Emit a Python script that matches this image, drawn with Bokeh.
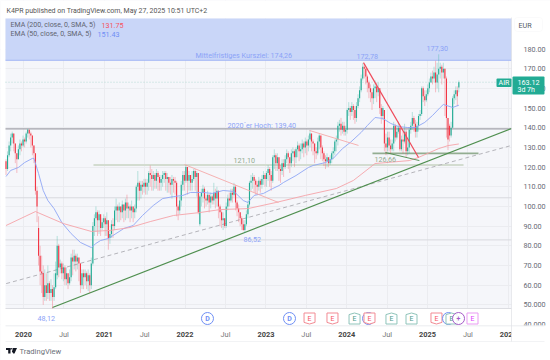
from bokeh.plotting import figure
from bokeh.embed import file_html
from bokeh.resources import INLINE
from bokeh.models import FixedTicker, Label, BoxAnnotation, ColumnDataSource, PolyAnnotation, LinearAxis
from bokeh.core.properties import value

closes = [119,126,131,135,137,132,127,124,129,132,
 131,134,133,137,139,137,136,131,127,108,
 100,75,67,66,54,60,56,61,56,58,
 54,59,66,80,69,71,66,69,63,66,
 61,64,74,72,75,72,74,71,60,66,
 64,66,62,65,60,71,90,94,97,93,
 96,89,92,94,91,93,84,86,91,90,
 98,100,98,100,97,101,98,102,99,100,
 98,100,97,99,110,112,108,111,110,112,
 110,112,117,116,114,116,113,117,115,112,
 114,116,117,114,115,112,111,114,113,112,
 100,98,103,111,116,113,120,113,116,112,
 114,118,115,117,97,105,107,109,104,103,
 106,102,105,103,107,104,108,100,97,93,
 94,90,100,104,103,107,106,110,102,99,
 97,94,91,88,91,96,101,112,113,115,
 113,111,110,113,111,114,116,114,117,119,
 116,113,125,126,122,125,119,118,122,120,
 124,127,125,122,127,128,125,129,131,128,
 129,132,130,133,131,134,137,133,132,128,
 127,133,136,130,127,124,123,125,122,124,
 127,128,133,134,141,142,139,141,138,139,
 149,150,148,151,149,145,151,155,159,165,
 171,170,166,163,160,158,155,160,161,158,
 160,150,146,150,132,130,135,131,129,132,
 141,135,138,140,129,134,133,138,128,130,
 139,141,145,142,138,141,146,147,160,156,
 154,157,160,163,166,165,168,163,167,170,
 171,168,170,165,145,134,136,140,155,157,
 159,156,163.12]
highs = [124,128,133,137,138,137,130,127,131,134,
 133,136,135,138,139.4,139,138,134,130,127,
 110,95,80,75,70,68,66,70,62,63,
 60,66,72,85,81,73,72,71,70,69,
 66,68,76,78,78,76,76,74,68,68,
 68,68,67,68,66,74,92,96,100,98,
 98,94,94,96,95,97,93,88,93,94,
 100,104,101,102,100,103,101,104,106,102,
 101,103,100,101,111,118,113,113,113,114,
 114,114,118,120.8,119,118,117,119,118,116,
 116,118,118,118,117,115,115,116,115,115,
 113,101,105,113,118,118,121.1,118,118,116,
 118,119,119,118,117,106,109,111,110,106,
 108,106,107,106,112,109,110,108,101,98,
 97,94,102,106,107,109,109,112,111,103,
 101,97,95,93,93,98,103,113,116,117,
 116,114,113,115,114,116,118,117,118,121,
 120,118,126,129,127,127,125,121,124,124,
 126,129,128,125,129,130,129,130,133,132,
 132,134,133,135,134,136,138.8,137,134,132,
 130,135,137,135,131,128,126,127,125,126,
 128,130,134,136,143,144,145,143,143,141,
 150,153,151,153,152,151,153,157,161,167,
 172.8,172,169,167,164,162,160,162,164,163,
 163,157,152,151,146,137,138,138,134,134,
 143,142,141,143,141,136,138,142,139,134,
 140,143,148,146,144,143,147,149,161,161,
 159,159,162,165,168,169,171,174,173,177.3,
 173,172,173,168,166,145,142,143,156,159,
 161,161,164]
lows = [116,118,125,128,132,128,122,117,125,126,
 128,130,130,132,135,134,130,126,122,106,
 92,70,60,56,50,52,52,53,52,52,
 48.12,52,58,63,64,66,63,62,60,60,
 58,60,62,65,68,67,68,62,56,58,
 58,60,58,57,56,58,70,85,87,85,
 86,85,88,89,85,85,78,81,84,84,
 88,93,92,92,93,94,92,93,94,94,
 92,94,92,94,97,103,103,104,106,107,
 106,106,108,110,108,108,109,109,108,108,
 108,110,112,108,107,107,106,104,107,106,
 95,93,96,100,108,108,112,106,108,108,
 108,113,108,105,96,90,100,102,99,100,
 101,97,99,101,101,99,100,94,90,89,
 88,89,89,98,100,102,102,105,98,95,
 92,90,88,87.5,86.52,90,94,100,108,109,
 107,106,106,108,107,109,111,110,110,113,
 110,108,112,119,118,118,113,112,116,115,
 119,122,119,117,120,123,120,122,125,123,
 124,127,125,127,126,128,130,128,126,122,
 124,126,129,124,123,120.5,119,120,120,121,
 122,124,126,128,131,138,136,137,136,136,
 137,146,144,146,144,142,143,150,153,158,
 164,165,162,158,155,153,149,152,155,153,
 156,147,142,144,128,126,128,128,126.7,128,
 128,133,134,137,128,128,127,132,125,126,
 127,137,139,138,135,135,138,144,146,153,
 151,153,156,158,163,162,163,158,160,158,
 165,162,165,146,135,128.6,133,135,140,152,
 154,151,158]
gap_opens = {0: 123, 21: 89, 33: 65, 125: 91, 244: 149, 286: 141, 292: 160.5}

ema50_idx = [0,3,8,12,17,18,21,24,27,31,36,42,48,55,58,61,66,76,82,88,95,101,108,114,119,127,133,140,147,153,156,160,166,172,176,179,187,195,198,206,211,217,222,229,233,238,243,248,253,259,264,270,275,280,282,288,292]
ema50_val = [115.2,118.3,119.8,122.3,124.4,124.4,116.7,108.1,103,98.9,91.8,86.2,81.7,79.1,81.2,82.7,83.7,88.8,90.3,95.4,100.5,104,105,105.6,107.1,107.1,106.6,108.1,107.6,103,102,105.6,106.6,109.1,110.6,112.2,115.7,119.8,120.8,122.3,124.4,129.4,132.5,137.6,141.1,145.2,144.7,142.2,140.6,140.1,140.1,142.7,146.2,150.3,151.8,150.3,151.43]
ema200_idx = [0,19,37,55,67,80,93,108,125,138,156,174,193,213,224,238,260,266,279,285,292]
ema200_val = [90.3,97.4,91.3,87.3,87.8,89.3,92.3,95.4,96.9,98.4,98.9,102,105.6,109.1,113.2,121.8,123.3,124.9,129.4,130.9,131.75]

price_ticks = [180,170,160,150,140,130,120,110,100,90,80,70,60,50,40]
price_labels = ["180.00","170.00","160.00","150.00","140.00","130.00","120.00","110.00","100.00","90.00","80.00","70.00","60.00","50.000","40.000"]
year_ticks = [2020,2021,2022,2023,2024,2025,2026]
month_ticks = [2020.5,2021.5,2022.5,2023.5,2024.5,2025.5]
month_label = "Jul"

event_years = [2022.277,2023.292,2023.54,2023.824,2024.097,2024.27,2024.282,2024.554,2024.802,2025.111,2025.26,2025.297,2025.384,2025.557]
event_kinds = ["D","D","Ered","Ered","Egreen","D","Ered","Egreen","Egreen","Ered","D","Egreen","S","Epink"]

target_level = 174.26
high_level = 139.40
band_a = (121.1, 2020.866, 2025.446)
band_b = (127.0, 2024.319, 2025.631)
support_year, support_price = [2020.359, 2026.04], [48.65, 139.6]
dashed_year, dashed_price = [2019.786, 2026.05], [60.8, 131.1]
wedge1_year, wedge1_price = [2021.993, 2023.156], [121.3, 102.0]
wedge2_year, wedge2_price = [2023.54, 2024.146], [138.6, 131.0]
fall_year, fall_price = [2024.208, 2024.889], [173.1, 124.9]
base_year, base_price = [2024.48, 2024.90], [127.4, 123.3]
last_price = 163.12

PXY = 80.8
PPP = 1.968
def X(px): return 2020 + (px - 23) / PXY
def Y(py): return 180 - (py - 48.5) / PPP

TEAL, RED = "#22ab94", "#f23645"
BLUE_T = "#8ba3f7"
GREEN_T = "#93ab90"

W, H = 550, 360
p = figure(width=W, height=H, output_backend="svg", toolbar_location=None,
           x_range=(X(0), X(W)), y_range=(Y(H), Y(0)),
           x_axis_location=None, y_axis_location=None,
           min_border_left=0, min_border_right=0, min_border_top=0, min_border_bottom=0,
           background_fill_color="#f5f6fa", border_fill_color="#ffffff",
           margin=(0, 0, 0, 0), outline_line_color=None, tools="")
p.xgrid.ticker = FixedTicker(ticks=year_ticks + month_ticks)
p.ygrid.ticker = FixedTicker(ticks=price_ticks)
p.xgrid.grid_line_color = "#ebecf0"
p.ygrid.grid_line_color = "#ebecf0"

ax = LinearAxis(ticker=FixedTicker(ticks=price_ticks), fixed_location=X(511))
ax.major_label_overrides = dict(zip(price_ticks, price_labels))
ax.major_tick_line_color = None
ax.minor_tick_line_color = None
ax.axis_line_color = None
ax.major_label_standoff = 6
ax.major_label_text_font = "Roboto"
ax.major_label_text_font_size = "7.2px"
ax.major_label_text_color = "#666a73"
p.add_layout(ax, "right")

for ticks, style, color, loc in ((year_ticks, "bold", "#444444", 321), (month_ticks, "normal", "#777777", 319)):
    xa = LinearAxis(ticker=FixedTicker(ticks=ticks), fixed_location=Y(loc))
    if ticks is month_ticks:
        xa.major_label_overrides = {t: month_label for t in ticks}
    else:
        xa.major_label_overrides = {t: str(t) for t in ticks}
    xa.major_tick_line_color = None
    xa.minor_tick_line_color = None
    xa.axis_line_color = None
    xa.major_label_standoff = 4
    xa.major_label_text_font = "Roboto"
    xa.major_label_text_font_size = "7.4px"
    xa.major_label_text_font_style = style
    xa.major_label_text_color = color
    p.add_layout(xa, "below")

# page margins around the plot area, then the bands
for (l, r, t, b) in ((0, 5, 0, 360), (511, 550, 0, 360), (0, 550, 0, 18), (0, 550, 308, 360)):
    p.quad(left=X(l), right=X(r), bottom=Y(b), top=Y(t), fill_color="#ffffff", line_color=None)
p.quad(left=X(5), right=X(511), bottom=target_level, top=Y(18), fill_color="#c9d6f8", line_color=None)
p.line([X(5), X(511)], [target_level]*2, line_color="#a3b6f5", line_width=1)
p.line([X(5), X(511)], [Y(308)]*2, line_color="#dcdde2", line_width=1)
for lv in (104.4, 83.0):
    p.line([X(5), X(511)], [lv]*2, line_color="#d8d9de", line_width=1)
p.line([X(5), X(511)], [last_price]*2, line_color="#b8dcd4", line_width=1, line_dash="1 2")
p.line([X(5), X(511)], [high_level]*2, line_color="#a2a2aa", line_width=1.2)
p.line([band_a[1], band_a[2]], [band_a[0]]*2, line_color="#d3dcd0", line_width=2)
p.line([band_b[1], band_b[2]], [band_b[0]]*2, line_color="#93ad91", line_width=1.7)
p.line(dashed_year, dashed_price, line_color="#b4b4ba", line_width=1, line_dash="4 3")
p.line(support_year, support_price, line_color="#4f8f4f", line_width=1.2)

# candles
step = 1 / 52.1
x0 = X(5.5)
xs = [x0 + i * step for i in range(len(closes))]
opens = [gap_opens.get(i, closes[i - 1] if i else closes[0]) for i in range(len(closes))]
hi = [max(h, o, c) for h, o, c in zip(highs, opens, closes)]
lo = [min(l, o, c) for l, o, c in zip(lows, opens, closes)]
col = [TEAL if c >= o else RED for o, c in zip(opens, closes)]
src = ColumnDataSource(dict(x=xs, o=opens, c=closes, h=hi, l=lo, col=col))
p.segment("x", "h", "x", "l", source=src, line_color="col", line_alpha=0.3, line_width=1)
p.vbar("x", step * 0.72, "o", "c", source=src, fill_color="col", line_color=None)

# EMAs
p.line([xs[i] for i in ema50_idx], ema50_val, line_color="#8fa6f5", line_width=0.9)
p.line([xs[i] for i in ema200_idx], ema200_val, line_color="#f5a3a8", line_width=0.9)

# drawn lines
p.line(wedge1_year, wedge1_price, line_color="#f5a9a9", line_width=0.9)
p.line(wedge2_year, wedge2_price, line_color="#f5a9a9", line_width=0.9)
p.line(fall_year, fall_price, line_color="#ef4a5a", line_width=1.2)
p.line(base_year, base_price, line_color="#4a8a4a", line_width=0.9)

# events
ev_y = Y(318)
dx, dy = 5.5 / PXY, 5.5 / PPP
styles = {"Ered": ("#f28b94", "#f7525f"), "Egreen": ("#8fc4ba", "#4a9a8a"), "Epink": ("#e99bf2", "#e040fb")}
for yr, kind in zip(event_years, event_kinds):
    if kind in ("D", "S"):
        c = "#6f8ff5" if kind == "D" else "#a45ac8"
        p.circle([yr], [ev_y], radius=6 / PXY, fill_color="#ffffff", fill_alpha=0.85, line_color=c, line_width=1)
        p.text([yr], [ev_y], text=["D" if kind == "D" else "+"], text_align="center", text_baseline="middle",
               text_color=c, text_font=value("Roboto"), text_font_size="7px", text_font_style="bold")
    else:
        ln, tc = styles[kind]
        tip = 1.6 / PPP
        if kind == "Ered":
            xv = [yr - dx, yr + dx, yr + dx, yr, yr - dx]
            ys = [ev_y + dy, ev_y + dy, ev_y - dy + tip, ev_y - dy, ev_y - dy + tip]
        elif kind == "Egreen":
            xv = [yr, yr + dx, yr + dx, yr - dx, yr - dx]
            ys = [ev_y + dy, ev_y + dy - tip, ev_y - dy, ev_y - dy, ev_y + dy - tip]
        else:
            xv = [yr - dx, yr + dx, yr + dx, yr - dx]
            ys = [ev_y + dy, ev_y + dy, ev_y - dy, ev_y - dy]
        p.patch(xv, ys, fill_color="#ffffff", line_color=ln, line_width=1)
        p.text([yr], [ev_y], text=["E"], text_align="center", text_baseline="middle",
               text_color=tc, text_font=value("Roboto"), text_font_size="7px")

def lab(px, py, text, color="#666a73", size="7.2px", align="left", style="normal"):
    p.add_layout(Label(x=X(px), y=Y(py), text=text, text_color=color, text_font="Roboto",
                       text_font_size=size, text_align=align, text_baseline="middle", text_font_style=style))

def box(x1, y1, x2, y2, fill, line=None, radius=0):
    p.add_layout(BoxAnnotation(left=X(x1), right=X(x2), top=Y(y1), bottom=Y(y2), fill_color=fill, fill_alpha=1,
                               line_color=line, line_width=1, border_radius=radius, level="annotation"))

# bottom row and separators
box(511, 325, 550, 345, "#ffffff")
box(5, 325, 544, 325.7, "#e4e5e9")
box(5, 340.6, 544, 341.3, "#eeeff2")
box(510.6, 17, 511.3, 341, "#e0e1e5")
box(514, 17, 542, 31, "#ffffff", "#f0f0f3", 3)

lab(6, 10, "K4PR published on TradingView.com, May 27, 2025 10:51 UTC+2", "#555555", "7px")
lab(10, 24.5, "EMA (200, close, 0, SMA, 5)", "#5f6470", "7px")
lab(101, 24.5, "131.75", "#f7525f", "7.2px")
lab(10, 33.5, "EMA (50, close, 0, SMA, 5)", "#5f6470", "7px")
lab(97, 33.5, "151.43", "#6f8ff5", "7.2px")
lab(195, 55, "Mittelfristiges Kursziel: 174,26", BLUE_T)
lab(356, 55.5, "172,78", BLUE_T)
lab(426, 48, "177,30", BLUE_T)
lab(227, 124.5, "2020´er Hoch: 139,40", BLUE_T)
lab(233, 159.5, "121,10", GREEN_T)
lab(374, 158.5, "126,66", GREEN_T)
lab(243, 238.5, "86,52", BLUE_T)
lab(37, 317.5, "48,12", BLUE_T)
lab(518, 24.5, "EUR", "#555a64", "7.2px")

box(496, 78, 511, 86.5, TEAL, None, 1)
lab(503.5, 82.5, "AIR", "#ffffff", "7px", "center")
box(512, 76, 544, 94, TEAL, None, 1)
lab(517, 81.5, "163.12", "#ffffff", "7.2px")
lab(517, 89.5, "3d 7h", "#ffffff", "7px")

# logo
box(5.5, 347.5, 10, 349.5, "#131722")
box(7.7, 347.5, 10, 353, "#131722")
p.add_layout(PolyAnnotation(xs=[X(12.5), X(16.5), X(14), X(12.7), X(11.5)], ys=[Y(347.5), Y(347.5), Y(353), Y(353), Y(351)],
                            fill_color="#131722", fill_alpha=1, line_color=None))
box(10.5, 347.5, 12, 349, "#131722", None, 1)
lab(19, 350.5, "TradingView", "#6b6f78", "7.6px")

open("out.html", "w").write(file_html(p, INLINE))
